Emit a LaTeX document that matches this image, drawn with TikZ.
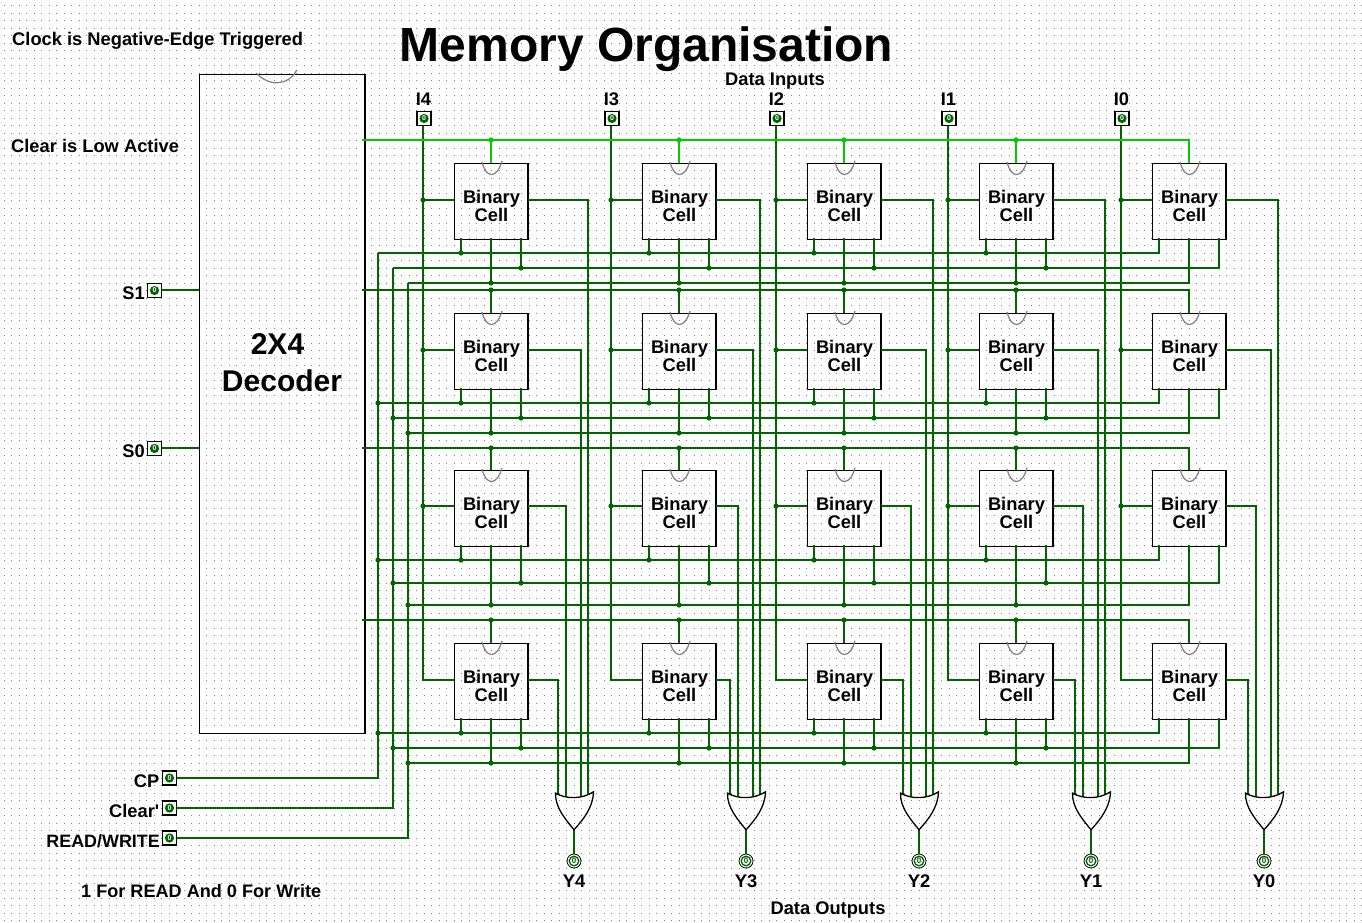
\documentclass[tikz,border=0pt]{standalone}
\usepackage{fontspec}
\setmainfont{Liberation Sans}
\newfontfamily\plainfont{Liberation Sans}
\definecolor{wiregreen}{HTML}{006400}
\definecolor{brightgreen}{HTML}{00CC00}
\definecolor{griddotc}{HTML}{808080}
\newcommand{\smallbold}{\fontsize{18.3pt}{17.5pt}\selectfont\bfseries}
\tikzset{
  wire/.style={draw=wiregreen,line width=2pt},
  hotwire/.style={draw=brightgreen,line width=2pt},
  griddots/.style={draw=griddotc,line width=1pt,dash pattern=on 1pt off 6.5pt},
  cellbox/.style={draw=black,line width=1.2pt,rectangle,minimum width=73pt,minimum height=76pt,inner sep=0pt},
  celltext/.style={align=center,font=\smallbold,inner sep=0pt},
  notch/.style={draw=gray,line width=1.2pt},
  lab/.style={font=\smallbold,inner sep=0pt,anchor=base},
  labr/.style={font=\smallbold,inner sep=0pt,anchor=base east},
  labl/.style={font=\smallbold,inner sep=0pt,anchor=base west},
  pinbox/.style={draw=black,fill=white,line width=1.1pt,rectangle,minimum size=14pt,inner sep=0pt,
    font=\fontsize{7pt}{7pt}\selectfont\bfseries,text=white,
    path picture={\fill[wiregreen] (path picture bounding box.center) circle[radius=4.6pt];}},
  outpin/.style={draw=black,fill=white,line width=0.8pt,circle,minimum size=14pt,inner sep=0pt,
    font=\fontsize{8pt}{8pt}\selectfont\bfseries,text=wiregreen,
    path picture={\draw[wiregreen,line width=1.3pt] (path picture bounding box.center) circle[radius=4.8pt];}},
  gatebox/.style={rectangle,minimum width=38pt,minimum height=37pt,inner sep=0pt},
  gateline/.style={draw=black,line width=1.3pt}
}
\begin{document}
\begin{tikzpicture}[x=1pt,y=-1pt]
\useasboundingbox (0,0) rectangle (1362,923);
\fill[white] (0,0) rectangle (1362,923);
% dotted work-sheet grid
\foreach \yy in {0,...,122}
  \draw[griddots] (3.7,5.8+7.5*\yy) -- (1362,5.8+7.5*\yy);

% texts
\node[lab] (title) at (646.5,62) {\fontsize{48pt}{48pt}\selectfont\bfseries Memory Organisation};
\node[labl] (noteclock) at (12,45.5) {\smallbold Clock is Negative-Edge Triggered};
\node[labl] (noteclear) at (11,152) {Clear is Low Active};
\node[lab] (datain) at (775,85.5) {Data Inputs};
\node[lab] (dataout) at (828,914.5) {Data Outputs};
\node[labl] (noterw) at (81,897) {\fontsize{18.1pt}{18pt}\selectfont\bfseries 1 For READ And 0 For Write};

% decoder
\node[draw=black,line width=1pt,rectangle,minimum width=164.5pt,minimum height=659pt,inner sep=0pt] (dec) at (281.75,404) {};
\draw[line width=2pt] (dec.north east) -- (dec.south east);
\draw[notch,shift={(dec.north)}] (-25.5,-1) .. controls (-14,12) and (6,13) .. (15,-4);
\node[align=center,inner sep=0pt,font=\fontsize{30pt}{37pt}\selectfont\bfseries] (dectext) at (282,363) {2X4\hspace*{9pt}\\Decoder};

% cells
\foreach \r/\t/\o in {1/163.5/1.5,2/313.5/1.5,3/470.5/2.5,4/643.5/1.5}{
  \foreach \c/\x in {1/491,2/679,3/844,4/1016,5/1189}{
    \node[cellbox] (cell-\r-\c) at (\x,\t+38) {};
    \draw[line width=2pt] (cell-\r-\c.north east) -- (cell-\r-\c.south east);
    \draw[notch,shift={(cell-\r-\c.north)}] (-9,-1) .. controls (-5,16) and (6,16) .. (11,-2);
    \node[celltext] (celltext-\r-\c) at ([xshift=0.5pt,yshift=-4.5pt]cell-\r-\c.center) {Binary\\Cell};
    \coordinate (w-\r-\c) at ([yshift=\o pt]cell-\r-\c.west);
    \coordinate (q-\r-\c) at ([yshift=\o pt]cell-\r-\c.east);
  }
}

% pins
\foreach \c/\x/\n in {1/424/I4,2/612/I3,3/777/I2,4/949/I1,5/1122/I0}{
  \node[pinbox] (in-\c) at (\x,118.5) {0};
  \coordinate (d-\c) at ([xshift=-1pt]in-\c.south);
  \node[lab] (inlab-\c) at (\x-0.6,105.5) {\n};
}
\node[pinbox] (s1) at (154.5,290.5) {0};
\node[pinbox] (s0) at (154.5,448.5) {0};
\node[pinbox] (cp) at (169.5,778) {0};
\node[pinbox] (clr) at (169.5,808) {0};
\node[pinbox] (rw) at (169.5,838) {0};
\node[labr] (s1lab) at (145,299.5) {S1};
\node[labr] (s0lab) at (145,457.5) {S0};
\node[labr] (cplab) at (159.5,787.5) {CP};
\node[labr] (clrlab) at (159.5,817.5) {\plainfont\bfseries Clear'};
\node[labr] (rwlab) at (160,847) {\fontsize{17.9pt}{18pt}\selectfont\bfseries READ/WRITE};

% gates and output pins
\foreach \c/\x/\n in {1/574/Y4,2/746/Y3,3/919/Y2,4/1091/Y1,5/1264/Y0}{
  \node[gatebox] (gate-\c) at (\x,811.5) {};
  \node[outpin] (out-\c) at (\x,861) {0};
  \node[lab] (outlab-\c) at (\x,887.5) {\n};
}

% control buses
\foreach \r/\a/\b/\e in {1/253/268/283,2/403/418/433,3/560/583/605,4/733/748/763}{
  \coordinate (bcp-\r) at (378,\a);
  \coordinate (bcl-\r) at (393,\b);
  \coordinate (brw-\r) at (408,\e);
  \draw[wire] (bcp-\r) -| ([xshift=-30pt,yshift=2pt]cell-\r-5.south);
  \draw[wire] (bcl-\r) -| ([xshift=30pt,yshift=2pt]cell-\r-5.south);
  \draw[wire] (brw-\r) -| ([yshift=2pt]cell-\r-5.south);
  \foreach \c in {1,2,3,4}{
    \coordinate (p-\c) at ([xshift=-30pt,yshift=2pt]cell-\r-\c.south);
    \draw[wire] (p-\c) -- (p-\c |- bcp-\r);
    \fill[wiregreen] (p-\c |- bcp-\r) circle[radius=2.6pt];
    \coordinate (p-\c) at ([xshift=30pt,yshift=2pt]cell-\r-\c.south);
    \draw[wire] (p-\c) -- (p-\c |- bcl-\r);
    \fill[wiregreen] (p-\c |- bcl-\r) circle[radius=2.6pt];
    \coordinate (p-\c) at ([yshift=2pt]cell-\r-\c.south);
    \draw[wire] (p-\c) -- (p-\c |- brw-\r);
    \fill[wiregreen] (p-\c |- brw-\r) circle[radius=2.6pt];
  }
}
\foreach \r in {2,3,4}{
  \fill[wiregreen] (bcp-\r) circle[radius=2.6pt];
  \fill[wiregreen] (bcl-\r) circle[radius=2.6pt];
  \fill[wiregreen] (brw-\r) circle[radius=2.6pt];
}
\draw[wire] (cp.east) -| (bcp-1);
\draw[wire] (clr.east) -| (bcl-1);
\draw[wire] (rw.east) -| (brw-1);

% data inputs
\foreach \c in {1,2,3,4,5}{
  \draw[wire] (d-\c) |- (w-4-\c);
  \foreach \r in {1,2,3}{
    \draw[wire] (d-\c |- w-\r-\c) -- (w-\r-\c);
    \fill[wiregreen] (d-\c |- w-\r-\c) circle[radius=2.6pt];
  }
}

% cell outputs to OR gates
\foreach \c in {1,2,3,4,5}{
  \foreach \r/\o/\e in {1/14/2.5,2/7/4.5,3/-8/4.5,4/-16/2}{
    \draw[wire] (q-\r-\c) -| ([xshift=\o pt,yshift=-\e pt]gate-\c.north);
  }
  \draw[wire] (gate-\c.south) -- (out-\c.north);
  \draw[gateline,shift={(gate-\c.north)}] (-18.5,0.3) .. controls (-19,15) and (-8,27) .. (0,37)
     .. controls (9,27) and (19,15) .. (19.5,-1) .. controls (8,6.5) and (-8,6.5) .. cycle;
}

% select lines
\coordinate (s1w) at ([yshift=0.5pt]s1.east);
\coordinate (s0w) at ([yshift=0.5pt]s0.east);
\draw[wire] (s1w) -- (s1w -| dec.west);
\draw[wire] (s0w) -- (s0w -| dec.west);
\foreach \r/\y in {2/290,3/448,4/620}{
  \coordinate (sel-\r) at (362,\y);
  \draw[wire] (sel-\r) -| (cell-\r-5.north);
  \foreach \c in {1,2,3,4}{
    \draw[wire] (cell-\r-\c.north |- sel-\r) -- (cell-\r-\c.north);
    \fill[wiregreen] (cell-\r-\c.north |- sel-\r) circle[radius=2.6pt];
  }
}
\coordinate (sel-1) at (362,140);
\draw[hotwire] (sel-1) -| (cell-1-5.north);
\foreach \c in {1,2,3,4}{
  \draw[hotwire] (cell-1-\c.north |- sel-1) -- (cell-1-\c.north);
  \fill[brightgreen] (cell-1-\c.north |- sel-1) circle[radius=2.6pt];
}
\end{tikzpicture}
\end{document}
